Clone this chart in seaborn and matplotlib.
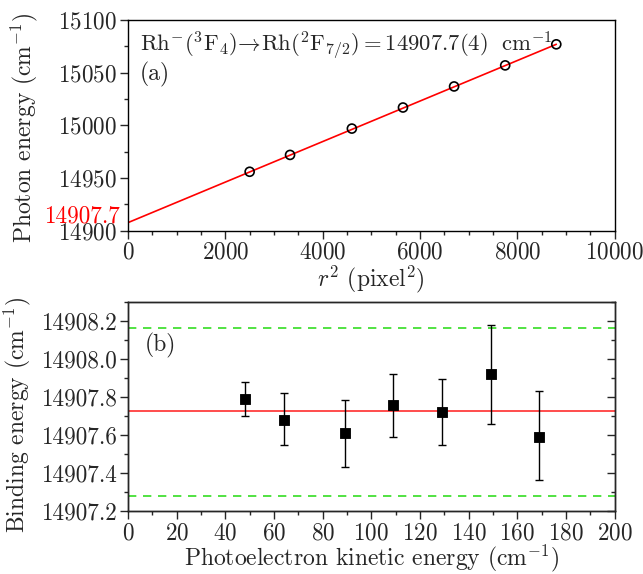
import numpy as np
import pandas as pd
import matplotlib
matplotlib.use("Agg")
import matplotlib.pyplot as plt
from matplotlib.ticker import MultipleLocator, FormatStrFormatter
import seaborn as sns

# (a) photon energy vs r^2
r2 = [2500, 3330, 4600, 5650, 6700, 7750, 8800]
photon = [14956, 14972, 14997, 15017, 15037, 15057, 15077]
fit_x = [0, 8800]
fit_intercept = 14907.7
fit_slope = 0.01924

# (b) binding energy vs kinetic energy
ke = [48, 64, 89, 109, 129, 149, 169]
be = [14907.79, 14907.68, 14907.61, 14907.755, 14907.72, 14907.92, 14907.59]
be_hi = [14907.88, 14907.82, 14907.785, 14907.92, 14907.895, 14908.18, 14907.83]
be_lo = [14907.70, 14907.545, 14907.43, 14907.59, 14907.545, 14907.655, 14907.36]
be_mean = 14907.725
be_bounds = [14908.165, 14907.28]

sns.set_style("ticks")
plt.rcParams['font.family'] = 'serif'
plt.rcParams['font.serif'] = ['cmr10', 'DejaVu Serif']
plt.rcParams['mathtext.fontset'] = 'cm'
plt.rcParams['axes.formatter.use_mathtext'] = True
plt.rcParams['font.size'] = 17
plt.rcParams['axes.linewidth'] = 1.0

fig = plt.figure(figsize=(6.43, 5.74), dpi=100)
ax1 = fig.add_axes([0.199, 0.598, 0.757, 0.367])
ax2 = fig.add_axes([0.199, 0.11, 0.757, 0.364])

df_a = pd.DataFrame({'r2': r2, 'E': photon})
fit_y = [fit_intercept + fit_slope * x for x in fit_x]
sns.lineplot(x=fit_x, y=fit_y, color='red', lw=1.2, ax=ax1)
sns.scatterplot(data=df_a, x='r2', y='E', marker='o', s=42, facecolors='none',
                edgecolor='black', linewidth=1.2, ax=ax1, zorder=3)
ax1.set_xlim(0, 10000)
ax1.set_ylim(14900, 15100)
ax1.xaxis.set_major_locator(MultipleLocator(2000))
ax1.xaxis.set_minor_locator(MultipleLocator(500))
ax1.yaxis.set_major_locator(MultipleLocator(50))
ax1.yaxis.set_minor_locator(MultipleLocator(25))
ax1.set_xlabel(r'$r^2$ (pixel$^2$)', labelpad=0)
ax1.set_ylabel(r'Photon energy (cm$^{-1}$)')
ax1.yaxis.set_label_coords(-0.18, 0.49)
ax1.text(-0.017, fit_intercept, '14907.7', color='red', ha='right', va='baseline',
         transform=ax1.get_yaxis_transform(), fontsize=16.7)
ax1.text(0.025, 0.955, r'$\mathrm{Rh^{-}(^{3}F_{4})\!\rightarrow\! Rh(^{2}F_{7/2}) = 14907.7(4)\ \ cm^{-1}}$',
         transform=ax1.transAxes, ha='left', va='top', fontsize=16.3)
ax1.text(0.025, 0.80, '(a)', transform=ax1.transAxes, ha='left', va='top')

ax2.errorbar(ke, be, yerr=[np.array(be) - np.array(be_lo), np.array(be_hi) - np.array(be)],
             fmt='none', ecolor='black', elinewidth=1.0, capsize=3, capthick=1.0, zorder=2)
sns.scatterplot(x=ke, y=be, marker='s', s=60, color='black', edgecolor='black', ax=ax2, zorder=3)
ax2.axhline(be_mean, color='#ff4c4c', lw=1.4, zorder=1)
for b in be_bounds:
    ax2.axhline(b, color='#33dd22', lw=1.2, ls=(0, (5, 4)), zorder=1)
ax2.set_xlim(0, 200)
ax2.set_ylim(14907.2, 14908.3)
ax2.xaxis.set_major_locator(MultipleLocator(20))
ax2.xaxis.set_minor_locator(MultipleLocator(10))
ax2.yaxis.set_major_locator(MultipleLocator(0.2))
ax2.yaxis.set_minor_locator(MultipleLocator(0.1))
ax2.yaxis.set_major_formatter(FormatStrFormatter('%.1f'))
ax2.set_xlabel(r'Photoelectron kinetic energy (cm$^{-1}$)', labelpad=-1)
ax2.set_ylabel(r'Binding energy (cm$^{-1}$)')
ax2.yaxis.set_label_coords(-0.195, 0.46)
ax2.text(0.035, 0.85, '(b)', transform=ax2.transAxes, ha='left', va='top')

ax2r = ax2.twinx()
ax2r.set_ylim(ax2.get_ylim())
ax2r.yaxis.set_major_locator(MultipleLocator(0.2))
ax2r.yaxis.set_minor_locator(MultipleLocator(0.1))
ax2r.tick_params(axis='y', which='both', direction='in', labelright=False, width=1)
ax2r.tick_params(axis='y', which='major', length=6)
ax2r.tick_params(axis='y', which='minor', length=3)

for ax in (ax1, ax2):
    ax.tick_params(which='major', direction='out', length=6, width=1)
    ax.tick_params(which='minor', direction='out', length=3, width=1)
    ax.tick_params(labelsize=16.7, pad=2)
    for s in ax.spines.values():
        s.set_visible(True)
        s.set_color('black')

fig.savefig('out.png', dpi=100)
